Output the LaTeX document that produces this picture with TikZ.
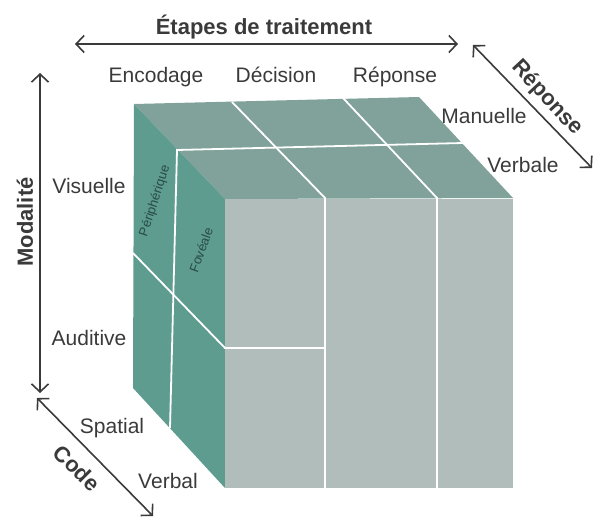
\documentclass[tikz,border=0pt]{standalone}
\usepackage{fontspec}
\setmainfont{Liberation Sans}
\usetikzlibrary{arrows.meta}
\definecolor{topface}{RGB}{128,162,154}
\definecolor{sideface}{RGB}{94,156,144}
\definecolor{frontface}{RGB}{177,189,187}
\definecolor{labelgray}{RGB}{58,58,58}
\definecolor{sidetext}{RGB}{40,76,70}
\tikzset{
axis/.style={draw=labelgray, line width=1.6pt,
	{Straight Barb[length=8pt,width=17pt]}-{Straight Barb[length=8pt,width=17pt]}},
axislabel/.style={text=labelgray, font=\fontsize{22}{26}\selectfont\bfseries},
levellabel/.style={text=labelgray, anchor=base, font=\fontsize{21}{25}\selectfont},
sublabel/.style={text=sidetext, inner sep=0pt, font=\fontsize{13}{15}\selectfont},
divider/.style={draw=white, line width=1.8pt}
}

\begin{document}
\begin{tikzpicture}[x=1pt, y=-1pt]
	\useasboundingbox (0,0) rectangle (596,519);
	% cube corners
	\coordinate (btl) at (134,104);
	\coordinate (btr) at (419,97);
	\coordinate (bbl) at (133,388);
	\coordinate (ftl) at (225,199);
	\coordinate (ftr) at (513,198);
	\coordinate (fbl) at (225,488);
	\coordinate (fbr) at (513,488);
	\fill[topface] (btl) -- (btr) -- (ftr) -- (ftl) -- cycle;
	\fill[sideface] (btl) -- (ftl) -- (fbl) -- (bbl) -- cycle;
	\fill[frontface] (ftl) rectangle (fbr);
	% cell borders
	\draw[divider] (232,102) -- (325,198) -- (325,488);
	\draw[divider] (343,98) -- (437,198) -- (437,488);
	\draw[divider] (463,143) -- (177,150) -- (170,428);
	\draw[divider] (133,253) -- (225,348) -- (325,348);
	\node[sublabel, rotate=72] (periph) at (155,201) {Périphérique};
	\node[sublabel, rotate=70] (fovea) at (201,250) {Fovéale};
	% axes
	\coordinate (stagesL) at (75,44);
	\coordinate (stagesR) at (458,44);
	\coordinate (modTop) at (40,73);
	\coordinate (modBot) at (40,393);
	\coordinate (codeTop) at (37,398);
	\coordinate (codeBot) at (153,516);
	\coordinate (respTop) at (473,45);
	\coordinate (respBot) at (592,168);
	\draw[axis] (stagesL) -- (stagesR);
	\draw[axis] (modTop) -- (modBot);
	\draw[axis] (codeTop) -- (codeBot);
	\draw[axis] (respTop) -- (respBot);
	\node[axislabel] (stages) at (264,27) {Étapes de traitement};
	\node[axislabel, rotate=90] (modality) at (25,222) {Modalité};
	\node[axislabel, rotate=-45] (code) at (77,468) {Code};
	\node[axislabel, rotate=-47] (response) at (547,98) {Réponse};
	% levels
	\node[levellabel] (encoding) at (156,82) {Encodage};
	\node[levellabel] (decision) at (276,82) {Décision};
	\node[levellabel] (answer) at (395,82) {Réponse};
	\node[levellabel] (visual) at (89,193) {Visuelle};
	\node[levellabel] (auditory) at (89,345) {Auditive};
	\node[levellabel] (manual) at (484,123) {Manuelle};
	\node[levellabel] (vocal) at (523,172) {Verbale};
	\node[levellabel] (spatial) at (112,433) {Spatial};
	\node[levellabel] (verbal) at (168,488) {Verbal};
\end{tikzpicture}
\end{document}
